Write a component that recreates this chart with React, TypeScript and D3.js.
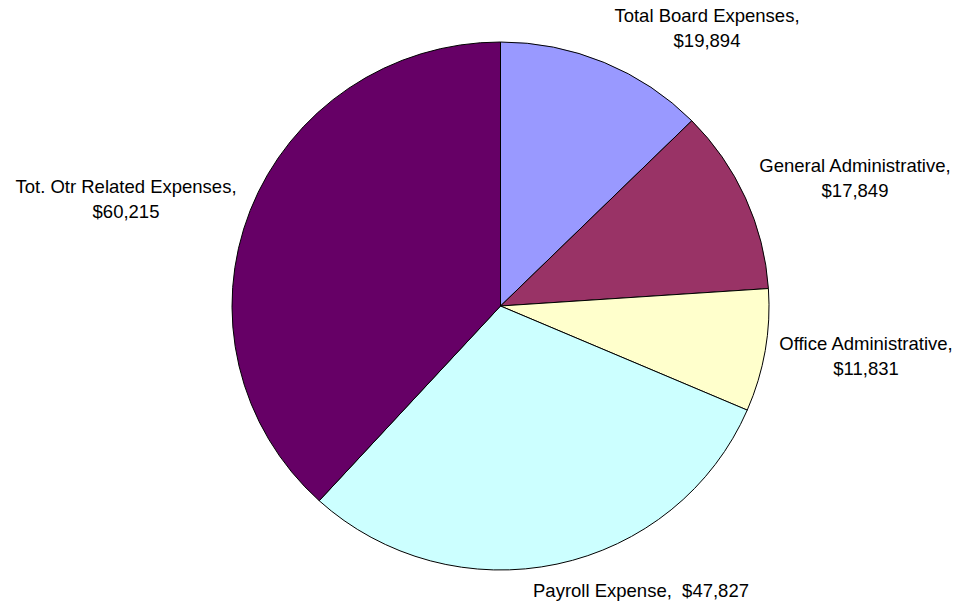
import React from "react";
import * as d3 from "d3";

const categories = [
  "Total Board Expenses",
  "General Administrative",
  "Office Administrative",
  "Payroll Expense",
  "Tot. Otr Related Expenses",
];
const values = [19894, 17849, 11831, 47827, 60215];
const colors = ["#9999FF", "#993366", "#FFFFCC", "#CCFFFF", "#660066"];

const labelLines = [
  ["Total Board Expenses,", "$19,894"],
  ["General Administrative,", "$17,849"],
  ["Office Administrative,", "$11,831"],
  ["Payroll Expense,  $47,827"],
  ["Tot. Otr Related Expenses,", "$60,215"],
];
const labelPos: [number, number][] = [
  [707, 22],
  [855, 172],
  [866, 350],
  [641, 597],
  [126, 193],
];

export default function App() {
  const W = 958;
  const H = 602;
  const cx = 500.5;
  const cy = 306;
  const r = 264;
  const sx = 268.5 / 264;
  const pie = d3
    .pie<number>()
    .sort(null)
    .value((d) => d);
  const arcs = pie(values);
  const arc = d3.arc<d3.PieArcDatum<number>>().innerRadius(0).outerRadius(r);
  return (
    <svg
      width={W}
      height={H}
      style={{ position: "absolute", left: 0, top: 0 }}
      fontFamily="Liberation Sans, Arial, sans-serif"
    >
      <rect width={W} height={H} fill="#fff" />
      <g transform={`translate(${cx},${cy}) scale(${sx},1)`}>
        {arcs.map((a, i) => (
          <path
            key={categories[i]}
            d={arc(a) || ""}
            fill={colors[i]}
            stroke="#000"
            strokeWidth={1}
            vectorEffect="non-scaling-stroke"
          />
        ))}
      </g>
      {labelLines.map((lines, i) => (
        <text
          key={i}
          x={labelPos[i][0]}
          y={labelPos[i][1]}
          textAnchor="middle"
          fontSize={18.5}
          fill="#000"
        >
          {lines.map((l, j) => (
            <tspan key={j} x={labelPos[i][0]} dy={j === 0 ? 0 : 25} style={{ whiteSpace: "pre" }}>
              {l}
            </tspan>
          ))}
        </text>
      ))}
    </svg>
  );
}
